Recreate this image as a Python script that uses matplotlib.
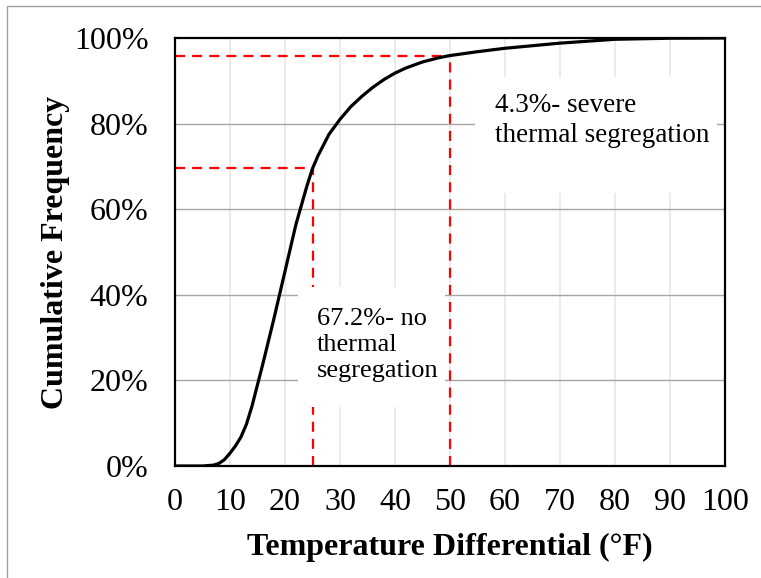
import matplotlib
matplotlib.use("Agg")
import matplotlib.pyplot as plt
from matplotlib.patches import Rectangle
from matplotlib.ticker import PercentFormatter

# ---- data ----
temp_diff = [0, 5, 7, 8, 9, 10, 11, 12, 13, 14, 15, 16, 18, 20, 22, 24, 25,
             26, 28, 30, 32, 34, 36, 38, 40, 42, 45, 48, 50, 55, 60, 70, 80,
             90, 100]
cum_freq = [0, 0, 0.2, 0.6, 1.5, 3, 4.7, 6.8, 9.8, 14, 19, 24, 34.5, 45.5,
            56.5, 65.5, 69.5, 72.5, 77.5, 81, 84, 86.4, 88.5, 90.3, 91.8,
            93, 94.4, 95.4, 95.9, 96.8, 97.6, 98.8, 99.7, 99.95, 100]
thresholds = [25, 50]
threshold_levels = [69.6, 95.7]
x_ticks = [0, 10, 20, 30, 40, 50, 60, 70, 80, 90, 100]
y_ticks = [0, 20, 40, 60, 80, 100]
label_no = "67.2%- no\nthermal\nsegregation"
label_severe = "4.3%- severe\nthermal segregation"

serif = ["Liberation Serif", "DejaVu Serif"]
plt.rcParams["font.family"] = serif

fig = plt.figure(figsize=(7.61, 5.78), dpi=100)
ax = fig.add_axes([175 / 761, 1 - 466 / 578, 550 / 761, 428 / 578])

# figure border (partially cropped in reference)
fig.patches.append(Rectangle((7 / 761, -0.05), 1.1, 1 - 6 / 578 + 0.05,
                             transform=fig.transFigure, fill=False,
                             edgecolor="#a0a0a0", lw=1.0, zorder=0))

ax.set_xlim(0, 100)
ax.set_ylim(0, 100)
ax.set_xticks(x_ticks)
ax.set_yticks(y_ticks)
ax.yaxis.set_major_formatter(PercentFormatter(xmax=100, decimals=0))

# grid
for yv in y_ticks[1:-1]:
    ax.axhline(yv, color="#a6a6a6", lw=1.0, zorder=1)
for xv in x_ticks[1:-1]:
    ax.axvline(xv, color="#e8e8e8", lw=1.2, zorder=0.9)

dash = (0, (4.5, 3.2))
# red threshold lines
t1, t2 = thresholds
l1, l2 = threshold_levels
ax.plot([0, t1], [l1, l1], color="#ff0000", lw=1.6, ls=dash, zorder=2)
ax.plot([t1, t1], [0, l1], color="#ff0000", lw=1.6, ls=dash, zorder=2)
ax.plot([0, t2], [l2, l2], color="#ff0000", lw=1.6, ls=dash, zorder=2)
ax.plot([t2, t2], [0, l2], color="#ff0000", lw=1.6, ls=dash, zorder=4)

# white annotation boxes
ax.add_patch(Rectangle((22.4, 13.8), 26.7, 28.0, facecolor="white",
                       edgecolor="none", zorder=3))
ax.add_patch(Rectangle((54.5, 63.8), 44.0, 27.1, facecolor="white",
                       edgecolor="none", zorder=3))

ax.text(25.8, 37.0, label_no, fontsize=19, va="top", ha="left",
        linespacing=1.25, zorder=5)
ax.text(58.2, 87.2, label_severe, fontsize=19.5, va="top", ha="left",
        linespacing=1.27, zorder=5)

# curve
ax.plot(temp_diff, cum_freq, color="black", lw=2.3, zorder=6,
        solid_joinstyle="round")

for s in ax.spines.values():
    s.set_linewidth(1.6)
    s.set_color("black")
    s.set_zorder(7)

ax.tick_params(axis="both", length=0, labelsize=23)
ax.tick_params(axis="y", pad=19)
ax.tick_params(axis="x", pad=16)

ax.set_xlabel("Temperature Differential (°F)", fontsize=23,
              fontweight="bold", labelpad=11)
ax.set_ylabel("Cumulative Frequency", fontsize=23, fontweight="bold",
              labelpad=3)

fig.savefig("out.png", dpi=100)
